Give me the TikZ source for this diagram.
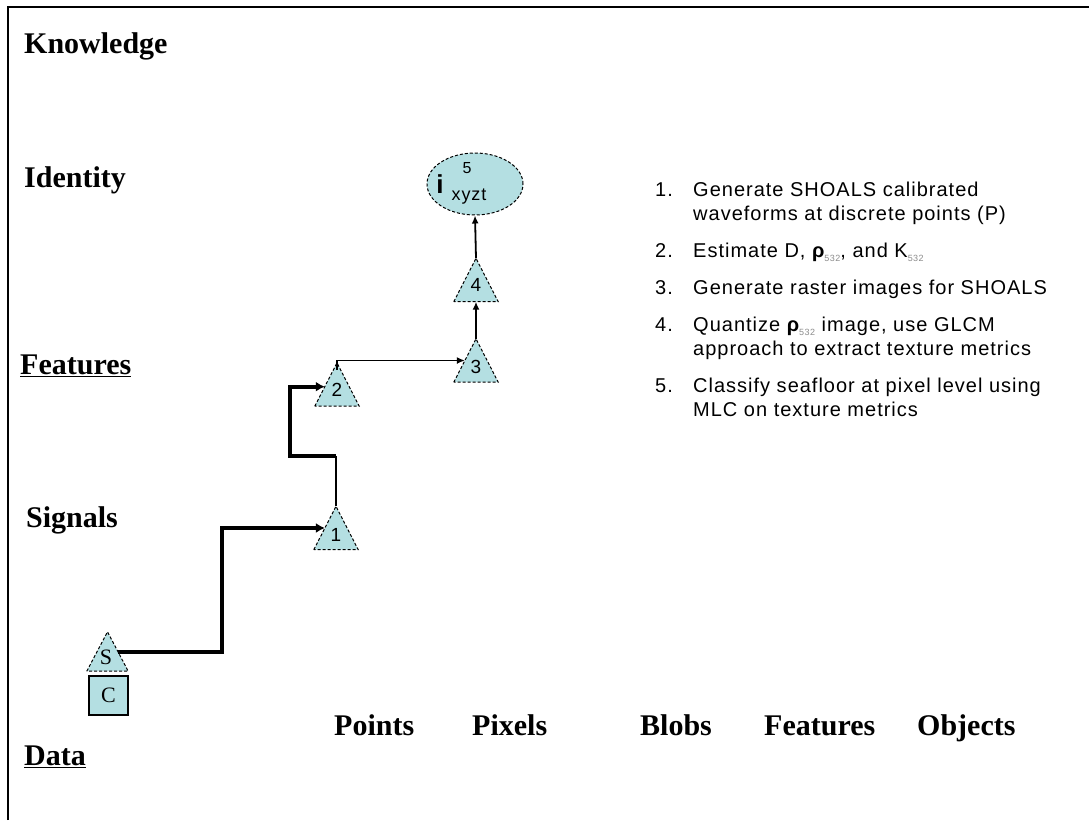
\documentclass[tikz,border=0pt]{standalone}
\usepackage{fontspec}
\setmainfont{Liberation Serif}
\newfontfamily\listfont[LetterSpace=5]{Liberation Sans}
\newfontfamily\sansfont{Liberation Sans}
\usetikzlibrary{shapes.geometric,arrows.meta,calc}
\definecolor{nodefill}{RGB}{180,223,226}
\definecolor{subgray}{RGB}{140,140,140}
\newcommand{\rhosub}{{\bfseries ρ}\raisebox{-0.45ex}{\fontsize{9}{9}\selectfont\color{subgray}532}}
\newcommand{\ksub}{K\raisebox{-0.45ex}{\fontsize{9}{9}\selectfont\color{subgray}532}}
\tikzset{
  lvl/.style={anchor=base west, inner sep=0pt, font=\fontsize{30}{36}\selectfont\bfseries},
  trinode/.style={minimum width=44pt, minimum height=43pt, inner sep=0pt},
  tri/.style={draw, dash pattern=on 3pt off 2pt, fill=nodefill, line width=1pt},
  numlbl/.style={font=\sansfont\fontsize{19}{21}\selectfont, inner sep=0pt},
  thinarrow/.style={line width=1.8pt, -{Latex[length=8pt,width=7pt]}},
  thickarrow/.style={line width=4pt, -{Latex[length=9pt,width=10pt]}},
  thinline/.style={line width=1.8pt},
  listtxt/.style={anchor=base west, inner sep=0pt, font=\listfont\fontsize{20}{24}\selectfont},
}
\begin{document}
\begin{tikzpicture}[x=1pt,y=-1pt]
\fill[white] (0,0) rectangle (1089,820);
\useasboundingbox (0,0) rectangle (1089,820);
\draw[line width=2pt] (8,820) -- (8,7) -- (1089,7);

% level labels
\node[lvl] (kn) at (24,53) {Knowledge};
\node[lvl] (id) at (24,187) {Identity};
\node[lvl] (fe) at (20,374) {\underline{Features}};
\node[lvl] (si) at (26,527) {Signals};
\node[lvl] (da) at (24,765) {\underline{Data}};

% bottom labels
\node[lvl] (po) at (334,735) {Points};
\node[lvl] (pi) at (472,735) {Pixels};
\node[lvl] (bl) at (640,735) {Blobs};
\node[lvl] (fb) at (764,735) {Features};
\node[lvl] (ob) at (917,735) {Objects};

% triangles
\node[trinode, minimum width=41pt, minimum height=39pt] (tS) at (107.5,651.5) {};
\draw[tri] (tS.south west) -- (tS.north) -- (tS.south east) -- cycle;
\node[inner sep=0pt, font=\fontsize{22}{24}\selectfont] (lS) at (106,657) {S};

\node[draw, fill=nodefill, minimum size=39pt, inner sep=0pt, line width=1.2pt,
      font=\fontsize{22}{24}\selectfont] (sc) at (108.5,695.5) {C};

\node[trinode] (t1) at (336,528) {};
\draw[tri] (t1.south west) -- (t1.north) -- (t1.south east) -- cycle;
\node[numlbl] (l1) at ($(t1.south)+(0,-15)$) {1};

\node[trinode] (t2) at (337,384.5) {};
\draw[tri] (t2.south west) -- (t2.north) -- (t2.south east) -- cycle;
\node[numlbl] (l2) at ($(t2.south)+(0,-16)$) {2};

\node[trinode] (t3) at (476,360.5) {};
\draw[tri] (t3.south west) -- (t3.north) -- (t3.south east) -- cycle;
\node[numlbl] (l3) at ($(t3.south)+(0,-15)$) {3};

\node[trinode] (t4) at (476,280) {};
\draw[tri] (t4.south west) -- (t4.north) -- (t4.south east) -- cycle;
\node[numlbl] (l4) at ($(t4.south)+(0,-17)$) {4};

% ellipse
\node[ellipse, draw, dash pattern=on 3pt off 2pt, line width=1pt, fill=nodefill,
      minimum width=96pt, minimum height=62pt, inner sep=0pt] (e5) at (475,184) {};
\node[anchor=base, inner sep=0pt, font=\sansfont\bfseries\fontsize{26}{28}\selectfont] (ei) at (440,193) {i};
\node[anchor=base, inner sep=0pt, font=\sansfont\fontsize{16}{18}\selectfont] (e5n) at (467,173) {5};
\node[anchor=base, inner sep=0pt, font=\listfont\fontsize{18}{20}\selectfont] (exy) at (469,200) {xyzt};

% connectors
\coordinate (sR) at ($(tS.north)!0.5!(tS.south east)$);
\coordinate (k1) at (222,590);
\coordinate (t1L) at ($(t1.north)!0.5!(t1.south west)$);
\draw[thickarrow] (sR) -| (k1) |- (t1L);

\coordinate (h1) at (0,456);
\coordinate (k2) at (290,420);
\coordinate (t2L) at ($(t2.south west)!0.45!(t2.north)$);
\draw[thinline] (t1.north) -- (t1.north |- h1);
\draw[thickarrow] (t1.north |- h1) -| (k2) |- (t2L);

\coordinate (t3L) at ($(t3.north)!0.5!(t3.south west)$);
\draw[thinarrow] ($(t2.north)+(0,7)$) |- (t3L);
\draw[thinarrow] (t3.north) -- (t4.south);
\draw[thinarrow] (t4.north) -- (e5.south);

% list
\node[listtxt] (n1) at (655,196) {1.};
\node[listtxt] (x1) at (693,196) {Generate SHOALS calibrated};
\node[listtxt] (x1b) at (693,220) {waveforms at discrete points (P)};
\node[listtxt] (n2) at (655,257) {2.};
\node[listtxt] (x2) at (693,257) {Estimate D, \rhosub, and \ksub};
\node[listtxt] (n3) at (655,294) {3.};
\node[listtxt] (x3) at (693,294) {Generate raster images for SHOALS};
\node[listtxt] (n4) at (655,331) {4.};
\node[listtxt] (x4) at (693,331) {Quantize \rhosub\ image, use GLCM};
\node[listtxt] (x4b) at (693,355) {approach to extract texture metrics};
\node[listtxt] (n5) at (655,392) {5.};
\node[listtxt] (x5) at (693,392) {Classify seafloor at pixel level using};
\node[listtxt] (x5b) at (693,416) {MLC on texture metrics};
\end{tikzpicture}
\end{document}
